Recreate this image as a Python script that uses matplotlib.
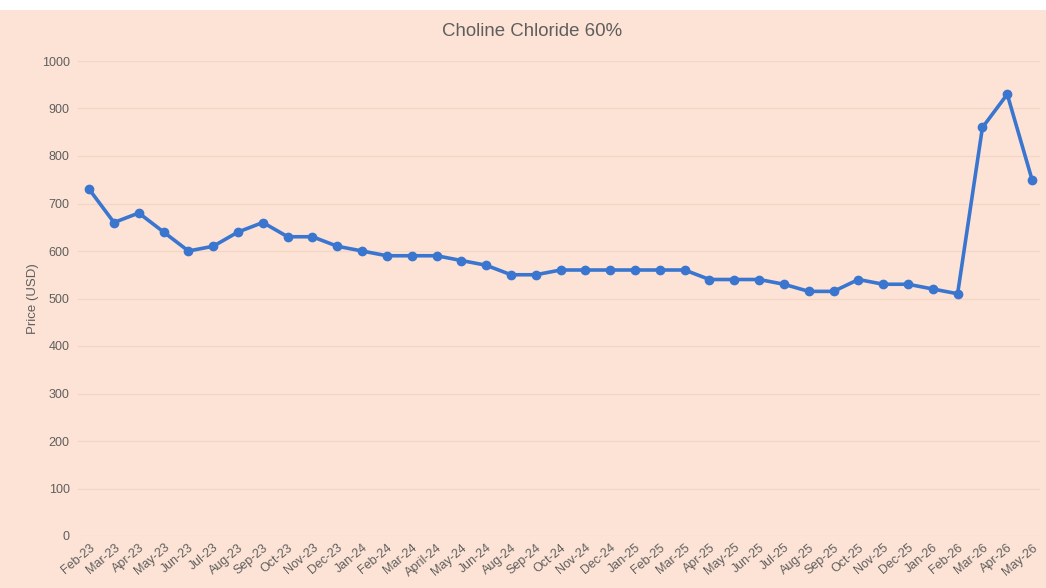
import matplotlib
matplotlib.use("Agg")
from matplotlib import pyplot as plt
from matplotlib.patches import Rectangle

plt.rcParams['font.family'] = ['Liberation Sans', 'DejaVu Sans']

months = ['Feb-23', 'Mar-23', 'Apr-23', 'May-23', 'Jun-23', 'Jul-23', 'Aug-23',
          'Sep-23', 'Oct-23', 'Nov-23', 'Dec-23', 'Jan-24', 'Feb-24', 'Mar-24',
          'April-24', 'May-24', 'Jun-24', 'Aug-24', 'Sep-24', 'Oct-24', 'Nov-24',
          'Dec-24', 'Jan-25', 'Feb-25', 'Mar-25', 'Apr-25', 'May-25', 'Jun-25',
          'Jul-25', 'Aug-25', 'Sep-25', 'Oct-25', 'Nov-25', 'Dec-25', 'Jan-26',
          'Feb-26', 'Mar-26', 'Apr-26', 'May-26']
prices = [730, 660, 680, 640, 600, 610, 640, 660, 630, 630, 610, 600, 590, 590,
          590, 580, 570, 550, 550, 560, 560, 560, 560, 560, 560, 540, 540, 540,
          530, 515, 515, 540, 530, 530, 520, 510, 860, 930, 750]
yticks = list(range(0, 1001, 100))

bg = '#fde3d5'
line_col = '#3a76cf'
text_col = '#5e5e5e'

fig = plt.figure(figsize=(10.46, 5.88), dpi=100, facecolor='white')
# peach panel (white strip along the top)
fig.patches.append(Rectangle((0, 0), 1, 1 - 10 / 588, transform=fig.transFigure,
                             facecolor=bg, edgecolor='none', zorder=-10))

ax = fig.add_axes([78 / 1046, 1 - 536 / 588, (1040 - 78) / 1046, (536 - 61) / 588])
ax.set_facecolor('none')

x = list(range(len(months)))
ax.plot(x, prices, color=line_col, linewidth=2.6, marker='o', markersize=6,
        clip_on=False, zorder=3)

ax.set_xlim(-0.45, len(months) - 1 + 0.32)
ax.set_ylim(0, 1000)
ax.set_yticks(yticks)
ax.set_xticks(x)
ax.set_xticklabels(months, rotation=40, ha='right', rotation_mode='anchor',
                   fontsize=9, color=text_col)
ax.tick_params(axis='y', labelsize=9, labelcolor=text_col, length=0, pad=6)
ax.tick_params(axis='x', length=0, pad=4)

ax.grid(axis='y', color='#f3d4c5', linewidth=0.9)
ax.set_axisbelow(True)
for s in ax.spines.values():
    s.set_visible(False)

ax.set_ylabel('Price (USD)', fontsize=9.5, color=text_col, labelpad=2)
fig.text(532 / 1046, 1 - 32 / 588, 'Choline Chloride 60%', ha='center', va='center',
         fontsize=13.4, color=text_col)

plt.savefig('out.png', dpi=100, facecolor=fig.get_facecolor())
